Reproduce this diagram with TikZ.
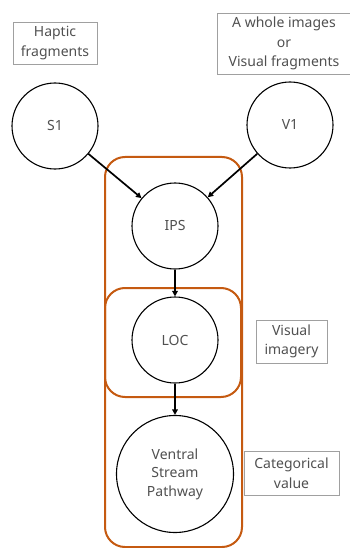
\documentclass[tikz,border=0pt]{standalone}
\usepackage{fontspec}
\setmainfont{Noto Sans}
\usetikzlibrary{arrows.meta}
\definecolor{orng}{HTML}{C55A11}
\definecolor{txt}{HTML}{505050}
\definecolor{bx}{HTML}{A0A0A0}
\begin{document}
\begin{tikzpicture}[x=1pt,y=-1pt,
  area/.style={circle,draw=black,line width=1.1pt,minimum size=86pt,inner sep=0pt,text=txt,font=\fontsize{14}{18.5}\selectfont,align=center},
  label box/.style={draw=bx,line width=0.8pt,text=txt,font=\fontsize{14}{19.5}\selectfont,align=center,inner sep=0pt},
  group/.style={draw=orng,line width=2pt,rounded corners=20pt},
  conn/.style={line width=1.7pt,-{Triangle[length=5.5pt,width=5.5pt]}}]
\useasboundingbox (0,0) rectangle (350,548);
% label boxes
\node[label box,minimum width=84pt,minimum height=42pt] (hap) at (55,43) {Haptic\\fragments};
\node[label box,minimum width=134pt,minimum height=61pt] (whole) at (284,43.5) {A whole images\\or\\Visual fragments};
\node[label box,minimum width=71pt,minimum height=43pt] (vis) at (291.5,341.5) {Visual\\imagery};
\node[label box,minimum width=95pt,minimum height=44pt] (cat) at (291.5,473) {Categorical\\value};
% groups
\draw[group] (105,157) rectangle (242,547);
\draw[group] (105,288) rectangle (241,397);
% areas
\node[area] (s1) at (55,126) {S1};
\node[area] (v1) at (290,125) {V1};
\node[area] (ips) at (175,226) {IPS};
\node[area] (loc) at (175,340) {LOC};
\node[area,minimum size=117pt] (vsp) at (175,474) {Ventral\\Stream\\Pathway};
% connectors
\draw[conn] (s1) -- (ips);
\draw[conn] (v1) -- (ips);
\draw[conn] (ips) -- (loc);
\draw[conn] (loc) -- (vsp);
\end{tikzpicture}
\end{document}
